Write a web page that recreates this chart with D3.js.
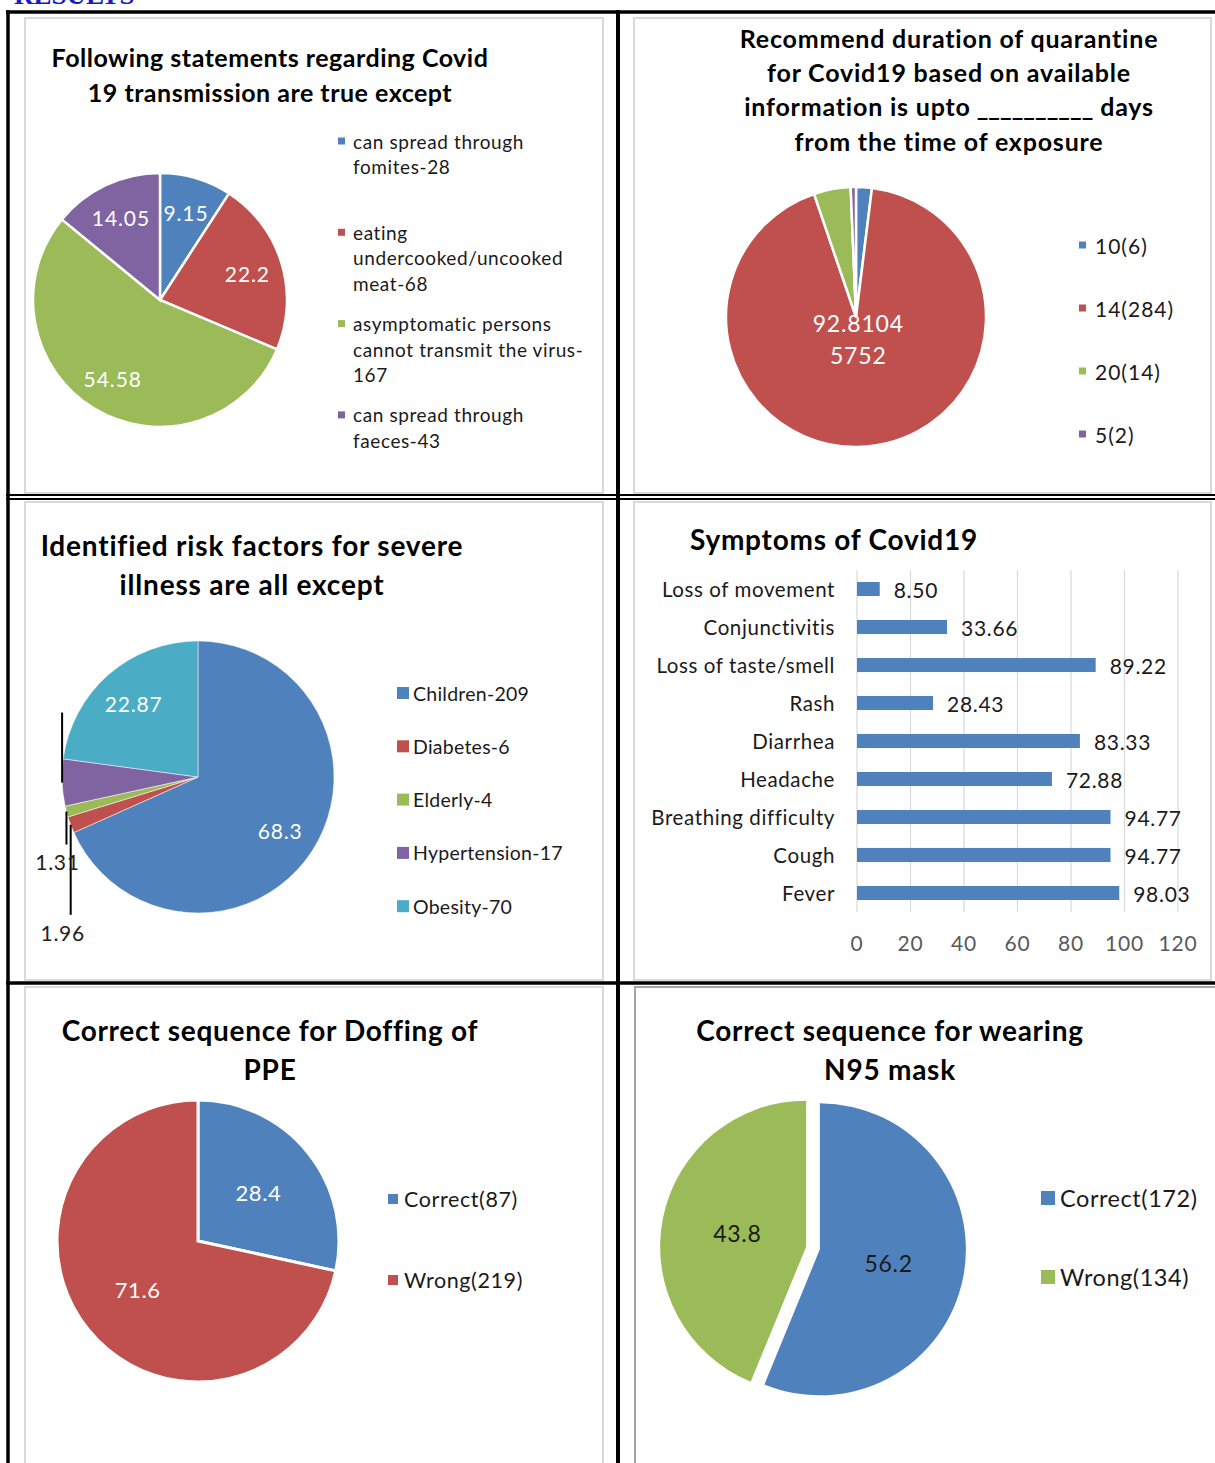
<!DOCTYPE html>
<html>
<head>
<meta charset="utf-8">
<script src="https://cdn.jsdelivr.net/npm/d3@7"></script>
<style>
  body { margin: 0; background: #fff; }
  svg text { font-family: Lato, "Open Sans", sans-serif; }
</style>
</head>
<body>
<svg id="page" width="1215" height="1463"></svg>
<script>
// ---- data ----

// chart 1: transmission
const transmissionLegend = [
    ['can spread through', 'fomites-28'],
    ['eating', 'undercooked/uncooked', 'meat-68'],
    ['asymptomatic persons', 'cannot transmit the virus-', '167'],
    ['can spread through', 'faeces-43']
];
const transmissionValues = [9.15, 22.2, 54.58, 14.05];

// chart 2: quarantine duration
const quarantineLegend = ['10(6)', '14(284)', '20(14)', '5(2)'];
const quarantineCounts = [6, 284, 14, 2];
const quarantineLabels = [null, ['92.8104', '5752'], null, null];

// chart 3: risk factors
const riskLegend = ['Children-209', 'Diabetes-6', 'Elderly-4', 'Hypertension-17', 'Obesity-70'];
const riskValues = [68.3, 1.96, 1.31, 5.56, 22.87];
const riskLabels = ['68.3', '1.96', '1.31', null, '22.87'];

// chart 4: symptoms
const symptomNames = ['Loss of movement', 'Conjunctivitis', 'Loss of taste/smell', 'Rash', 'Diarrhea',
    'Headache', 'Breathing difficulty', 'Cough', 'Fever'];
const symptomValues = [8.50, 33.66, 89.22, 28.43, 83.33, 72.88, 94.77, 94.77, 98.03];
const symptomTicks = [0, 20, 40, 60, 80, 100, 120];

// chart 5: doffing of PPE
const doffingLegend = ['Correct(87)', 'Wrong(219)'];
const doffingValues = [28.4, 71.6];

// chart 6: N95 mask
const maskLegend = ['Correct(172)', 'Wrong(134)'];
const maskValues = [56.2, 43.8];

// excel 2007 colours
const blue = '#4F81BD', red = '#C0504D', green = '#9BBB59', purple = '#8064A2', aqua = '#4BACC6';

const svg = d3.select('#page');

// ---- page frame ----
svg.append('text')
    .attr('x', 14).attr('y', 4)
    .style('font-family', '"Liberation Serif", serif')
    .style('font-weight', 'bold')
    .style('font-size', '27px')
    .attr('fill', '#1a1ac8')
    .text('RESULTS');

let panels = [
    {x: 25, y: 18, w: 578, h: 475, c: '#d9d9d9'},
    {x: 634, y: 18, w: 577, h: 475, c: '#d9d9d9'},
    {x: 25, y: 502, w: 578, h: 478, c: '#d9d9d9'},
    {x: 634, y: 502, w: 577, h: 478, c: '#d9d9d9'},
    {x: 25, y: 987, w: 578, h: 500, c: '#d9d9d9'},
    {x: 635, y: 987, w: 600, h: 500, c: '#a6a6a6'}
];
svg.selectAll('rect.panel')
    .data(panels)
    .enter()
    .append('rect')
    .classed('panel', true)
    .attr('x', d => d.x).attr('y', d => d.y)
    .attr('width', d => d.w).attr('height', d => d.h)
    .attr('fill', 'none')
    .attr('stroke', d => d.c)
    .attr('stroke-width', 2);

let rules = [
    [6, 12, 1215, 12, 3.5],
    [8, 10, 8, 1463, 3.5],
    [618, 10, 618, 1463, 4],
    [6, 495, 1215, 495, 2],
    [6, 499, 1215, 499, 2],
    [6, 983, 1215, 983, 3.5]
];
svg.selectAll('line.rule')
    .data(rules)
    .enter()
    .append('line')
    .classed('rule', true)
    .attr('x1', d => d[0]).attr('y1', d => d[1])
    .attr('x2', d => d[2]).attr('y2', d => d[3])
    .attr('stroke', '#000')
    .attr('stroke-width', d => d[4]);

// ---- helpers ----
function title(lines, x, y0, step, size, ls, anchor) {
    return svg.append('g')
        .selectAll('text')
        .data(lines)
        .enter()
        .append('text')
        .attr('x', x)
        .attr('y', (d, i) => y0 + i * step)
        .attr('text-anchor', anchor || 'middle')
        .attr('dominant-baseline', 'central')
        .style('font-weight', 'bold')
        .style('font-size', size + 'px')
        .style('letter-spacing', ls + 'px')
        .attr('fill', '#000')
        .text(d => d);
}

function pie(opts) {
    let g = svg.append('g').attr('transform', `translate(${opts.cx},${opts.cy})`);
    let arcs = d3.pie().sort(null).value(d => d)(opts.values);
    let arc = d3.arc().innerRadius(0).outerRadius(opts.r);
    let explode = opts.explode || 0;
    let shift = d => {
        let a = (d.startAngle + d.endAngle) / 2;
        return [Math.sin(a) * explode, -Math.cos(a) * explode];
    };
    g.selectAll('path')
        .data(arcs)
        .enter()
        .append('path')
        .attr('d', arc)
        .attr('transform', d => `translate(${shift(d)})`)
        .attr('fill', (d, i) => opts.colors[i])
        .attr('stroke', '#fff')
        .attr('stroke-width', opts.stroke);

    let labelArc = d3.arc().innerRadius(opts.r * opts.labelAt).outerRadius(opts.r * opts.labelAt);
    let lab = g.selectAll('text.val')
        .data(arcs.filter((d, i) => opts.labels[i] && !(opts.outside && opts.outside[i])))
        .enter()
        .append('text')
        .classed('val', true)
        .attr('transform', d => {
            let c = labelArc.centroid(d), s = shift(d);
            return `translate(${c[0] + s[0]},${c[1] + s[1]})`;
        })
        .attr('text-anchor', 'middle')
        .style('font-size', opts.labelSize + 'px')
        .style('letter-spacing', (opts.labelLs || 0) + 'px')
        .attr('fill', opts.labelColor);
    lab.each(function (d) {
        let t = opts.labels[d.index];
        let lines = Array.isArray(t) ? t : [t];
        let sel = d3.select(this);
        lines.forEach((l, k) => {
            sel.append('tspan')
                .attr('x', 0)
                .attr('y', (k - (lines.length - 1) / 2) * opts.labelSize * 1.4)
                .attr('dominant-baseline', 'central')
                .text(l);
        });
    });
    return {g: g, arcs: arcs};
}

function legend(items, colors, x, y0, step, marker, gap, size, ls, lineStep) {
    let g = svg.append('g');
    let ent = g.selectAll('g')
        .data(items)
        .enter()
        .append('g')
        .attr('transform', (d, i) => `translate(${x},${y0 + i * step})`);
    ent.append('rect')
        .attr('x', 0).attr('y', -marker / 2)
        .attr('width', marker).attr('height', marker)
        .attr('fill', (d, i) => colors[i]);
    ent.append('text')
        .style('font-size', size + 'px')
        .style('letter-spacing', ls + 'px')
        .attr('fill', '#1a1a1a')
        .selectAll('tspan')
        .data(d => Array.isArray(d) ? d : [d])
        .enter()
        .append('tspan')
        .attr('x', marker + gap)
        .attr('y', (d, k) => k * (lineStep || 0))
        .attr('dominant-baseline', 'central')
        .text(d => d);
}

// ---- chart 1 ----
title(['Following statements regarding Covid', '19 transmission are true except'], 270, 57, 35, 25, 0.5);
pie({cx: 160, cy: 300, r: 127, values: transmissionValues, colors: [blue, red, green, purple],
    stroke: 2.5, labelAt: 0.72, labelSize: 21, labelLs: 0.9, labelColor: '#fff',
    labels: transmissionValues.map(String)});
legend(transmissionLegend, [blue, red, green, purple], 338, 141, 91.3, 7, 8, 19, 0.6, 25.5);

// ---- chart 2 ----
let t2 = title(['Recommend duration of quarantine', 'for Covid19 based on available',
    'information is upto', 'from the time of exposure'], 949, 38, 34.2, 25, 0.8);
// the blank is drawn as one unbroken row of underscores
t2.filter((d, i) => i === 2)
    .append('tspan')
    .style('letter-spacing', '0px')
    .text(' __________');
t2.filter((d, i) => i === 2)
    .append('tspan')
    .text(' days');
pie({cx: 856, cy: 317, r: 130, values: quarantineCounts, colors: [blue, red, green, purple],
    stroke: 2.5, labelAt: 0.17, labelSize: 23, labelLs: 0.8, labelColor: '#fff', labels: quarantineLabels});
legend(quarantineLegend, [blue, red, green, purple], 1079, 245, 63, 7, 9, 21, 1);

// ---- chart 3 ----
title(['Identified risk factors for severe', 'illness are all except'], 252, 545, 39, 28, 0.8);
let risk = pie({cx: 198, cy: 777, r: 136, values: riskValues, colors: [blue, red, green, purple, aqua],
    stroke: 0.5, labelAt: 0.72, labelSize: 21, labelLs: 0.8, labelColor: '#fff', labels: riskLabels,
    outside: [false, true, true, true, false]});
// leader lines for the thin slices, label pulled below or hidden above
let leaders = [null, {len: 90, dx: -8, gap: 18}, {len: 33, dx: -9, gap: 17}, {len: -70}, null];
risk.arcs.forEach((d, i) => {
    let L = leaders[i];
    if (!L) return;
    let a = (d.startAngle + d.endAngle) / 2;
    let px = Math.sin(a) * 136, py = -Math.cos(a) * 136;
    risk.g.append('line')
        .attr('x1', px).attr('y1', py)
        .attr('x2', px).attr('y2', py + L.len)
        .attr('stroke', '#000').attr('stroke-width', 2);
    if (riskLabels[i]) {
        risk.g.append('text')
            .attr('x', px + L.dx).attr('y', py + L.len + L.gap)
            .attr('text-anchor', 'middle')
            .attr('dominant-baseline', 'central')
            .style('font-size', '21px')
            .style('letter-spacing', '0.7px')
            .attr('fill', '#222')
            .text(riskLabels[i]);
    }
});
legend(riskLegend, [blue, red, green, purple, aqua], 397, 693, 53.3, 12, 4, 19.5, 0.25);

// ---- chart 4 ----
title(['Symptoms of Covid19'], 690, 539, 0, 28, 0.75, 'start');
let x = d3.scaleLinear().domain([0, 120]).range([857, 1178]);
let y = d3.scaleBand().domain(symptomNames).range([570, 912]).paddingInner(0.63).paddingOuter(0.315);
let bars = svg.append('g');
bars.selectAll('line.grid')
    .data(symptomTicks)
    .enter()
    .append('line')
    .classed('grid', true)
    .attr('x1', d => x(d)).attr('x2', d => x(d))
    .attr('y1', 570).attr('y2', 912)
    .attr('stroke', '#d9d9d9').attr('stroke-width', 1.2);
bars.selectAll('text.tick')
    .data(symptomTicks)
    .enter()
    .append('text')
    .classed('tick', true)
    .attr('x', d => x(d)).attr('y', 942)
    .attr('text-anchor', 'middle')
    .attr('dominant-baseline', 'central')
    .style('font-size', '21px')
    .style('letter-spacing', '0.8px')
    .attr('fill', '#595959')
    .text(d => d);
bars.selectAll('rect')
    .data(symptomValues)
    .enter()
    .append('rect')
    .attr('x', x(0))
    .attr('y', (d, i) => y(symptomNames[i]))
    .attr('width', d => x(d) - x(0))
    .attr('height', y.bandwidth())
    .attr('fill', blue);
bars.selectAll('text.cat')
    .data(symptomNames)
    .enter()
    .append('text')
    .classed('cat', true)
    .attr('x', 835)
    .attr('y', d => y(d) + y.bandwidth() / 2)
    .attr('text-anchor', 'end')
    .attr('dominant-baseline', 'central')
    .style('font-size', '20.5px')
    .style('letter-spacing', '0.6px')
    .attr('fill', '#1a1a1a')
    .text(d => d);
bars.selectAll('text.val')
    .data(symptomValues)
    .enter()
    .append('text')
    .classed('val', true)
    .attr('x', d => x(d) + 14)
    .attr('y', (d, i) => y(symptomNames[i]) + y.bandwidth() / 2)
    .attr('dominant-baseline', 'central')
    .style('font-size', '21px')
    .style('letter-spacing', '0.7px')
    .attr('fill', '#1a1a1a')
    .text(d => d3.format('.2f')(d));

// ---- chart 5 ----
title(['Correct sequence for Doffing of', 'PPE'], 270, 1030, 39, 28, 0.7);
pie({cx: 198, cy: 1241, r: 141, values: doffingValues, colors: [blue, red],
    stroke: 3, labelAt: 0.55, labelSize: 22, labelLs: 0.6, labelColor: '#fff', labels: doffingValues.map(String)});
legend(doffingLegend, [blue, red], 388, 1199, 81, 10, 6, 21.5, 0.6);

// ---- chart 6 ----
title(['Correct sequence for wearing', 'N95 mask'], 890, 1030, 39, 28, 0.75);
pie({cx: 813, cy: 1248, r: 146, values: maskValues, colors: [blue, green],
    stroke: 0, explode: 7, labelAt: 0.48, labelSize: 23, labelLs: 0.7, labelColor: '#1a1a1a',
    labels: maskValues.map(String)});
legend(maskLegend, [blue, green], 1041, 1198, 79, 14, 5, 23.5, 0.55);
</script>
</body>
</html>
